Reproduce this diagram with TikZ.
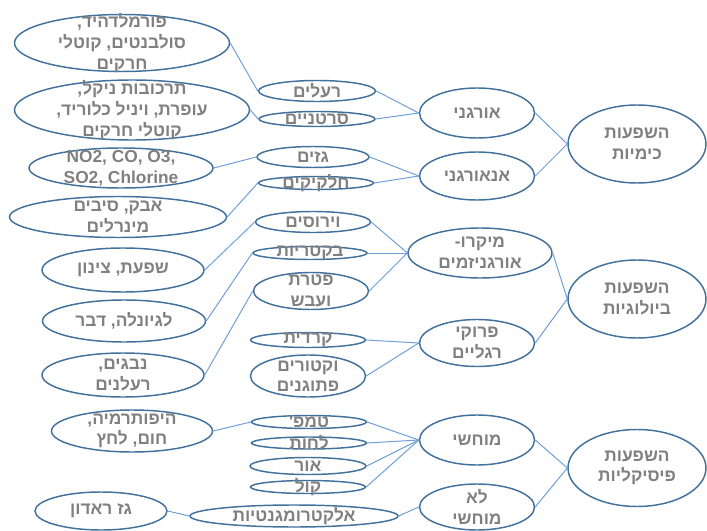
\documentclass[tikz,border=0pt]{standalone}
\usepackage{fontspec}
\usepackage{tikz}
\usetikzlibrary{shapes.geometric}
\TeXXeTstate=1
\newfontfamily\hebfont[Script=Hebrew]{Liberation Sans}
\definecolor{ovalblue}{HTML}{41719C}
\definecolor{linkblue}{HTML}{6F9FD8}
\definecolor{txtgray}{HTML}{808080}

\begin{document}
\begin{tikzpicture}[
  x=0.75pt, y=-0.75pt,
  oval/.style 2 args={ellipse, draw=ovalblue, line width=1.1pt, fill=white,
                      inner sep=0pt, minimum width=#1*0.75pt,
                      minimum height=#2*0.75pt},
  txt/.style={font=\hebfont\bfseries\fontsize{13}{15.5}\selectfont,
              text=txtgray, align=center, inner sep=0pt},
  link/.style={draw=linkblue, line width=0.75pt}
]
\useasboundingbox (0,0) rectangle (707,531);

\node[oval={138}{78}, label={[txt]center:{\beginR השפעות\endR\\\beginR כימיות\endR}}] (chem) at (637,144) {};
\node[oval={138}{78}, label={[txt]center:{\beginR השפעות\endR\\\beginR ביולוגיות\endR}}] (bio) at (637,299) {};
\node[oval={138}{77}, label={[txt]center:{\beginR השפעות\endR\\\beginR פיסיקליות\endR}}] (phys) at (637,468) {};

\node[oval={115}{50}, label={[txt]center:{\beginR אורגני\endR}}] (organic) at (477,113) {};
\node[oval={115}{48}, label={[txt]center:{\beginR אנאורגני\endR}}] (inorganic) at (477,176) {};
\node[oval={144}{50}, label={[txt]center:{\beginR מיקרו-\endR\\\beginR אורגניזמים\endR}}] (micro) at (480,253) {};
\node[oval={115}{47}, label={[txt]center:{\beginR פרוקי\endR\\\beginR רגליים\endR}}] (arthro) at (477,343) {};
\node[oval={115}{50}, label={[txt]center:{\beginR מוחשי\endR}}] (tangible) at (477,440) {};
\node[oval={115}{46}, label={[txt]center:{\beginR לא\endR\\\beginR מוחשי\endR}}] (intangible) at (477,507) {};

\node[oval={117}{21}, label={[txt]center:{\beginR רעלים\endR}}] (toxins) at (317,91) {};
\node[oval={116}{15}, label={[txt]center:{\beginR סרטניים\endR}}] (carcino) at (317,119) {};
\node[oval={112}{21}, label={[txt]center:{\beginR גזים\endR}}] (gases) at (313,157) {};
\node[oval={115}{13}, label={[txt]center:{\beginR חלקיקים\endR}}] (particles) at (316,183) {};
\node[oval={115}{21}, label={[txt]center:{\beginR וירוסים\endR}}] (viruses) at (313,222) {};
\node[oval={114}{13}, label={[txt]center:{\beginR בקטריות\endR}}] (bacteria) at (310,253) {};
\node[oval={115}{37}, label={[txt]center:{\beginR פטרת\endR\\\beginR ועבש\endR}}] (fungi) at (311,291) {};
\node[oval={115}{15}, label={[txt]center:{\beginR קרדית\endR}}] (mites) at (308,340) {};
\node[oval={115}{42}, label={[txt]center:{\beginR וקטורים\endR\\\beginR פתוגנים\endR}}] (vectors) at (308,376) {};
\node[oval={115}{13}, label={[txt]center:{\beginR טמפ'\endR}}] (temp) at (309,422) {};
\node[oval={115}{12}, label={[txt]center:{\beginR לחות\endR}}] (humidity) at (309,443) {};
\node[oval={116}{17}, label={[txt]center:{\beginR אור\endR}}] (light) at (308,466) {};
\node[oval={115}{13}, label={[txt]center:{\beginR קול\endR}}] (noise) at (308,487) {};
\node[oval={208}{22}, label={[txt]center:{\beginR אלקטרומגנטיות\endR}}] (emag) at (294,516) {};

\node[oval={215}{57}, label={[txt]center:{\beginR פורמלדהיד,\endR\\\beginR סולבנטים, קוטלי\endR\\\beginR חרקים\endR}}] (formal) at (122,43) {};
\node[oval={235}{60}, label={[txt]center:{\beginR תרכובות ניקל,\endR\\\beginR עופרת, ויניל כלוריד,\endR\\\beginR קוטלי חרקים\endR}}] (nickel) at (132,110) {};
\node[oval={184}{40}, label={[txt]center:{NO2, CO, O3,\\SO2, Chlorine}}] (airgas) at (121,168) {};
\node[oval={217}{41}, label={[txt]center:{\beginR אבק, סיבים\endR\\\beginR מינרלים\endR}}] (dust) at (118,217) {};
\node[oval={162}{44}, label={[txt]center:{\beginR שפעת, צינון\endR}}] (flu) at (123,270) {};
\node[oval={163}{42}, label={[txt]center:{\beginR לגיונלה, דבר\endR}}] (legion) at (124,321) {};
\node[oval={162}{44}, label={[txt]center:{\beginR נבגים,\endR\\\beginR רעלנים\endR}}] (spores) at (123,375) {};
\node[oval={161}{42}, label={[txt]center:{\beginR היפותרמיה,\endR\\\beginR חום, לחץ\endR}}] (hypo) at (132,431) {};
\node[oval={132}{38}, label={[txt]center:{\beginR גז ראדון\endR}}] (radon) at (101,511) {};

\draw[link] (formal.east) -- (toxins.west);
\draw[link] (nickel.east) -- (carcino.west);
\draw[link] (airgas.east) -- (gases.west);
\draw[link] (dust.east) -- (particles.west);
\draw[link] (flu.east) -- (viruses.west);
\draw[link] (legion.east) -- (bacteria.west);
\draw[link] (spores.east) -- (fungi.west);
\draw[link] (hypo.east) -- (temp.west);
\draw[link] (radon.east) -- (emag.west);

\draw[link] (toxins.east) -- (organic.west);
\draw[link] (carcino.east) -- (organic.west);
\draw[link] (gases.east) -- (inorganic.west);
\draw[link] (particles.east) -- (inorganic.west);
\draw[link] (viruses.east) -- (micro.west);
\draw[link] (bacteria.east) -- (micro.west);
\draw[link] (fungi.east) -- (micro.west);
\draw[link] (mites.east) -- (arthro.west);
\draw[link] (vectors.east) -- (arthro.west);
\draw[link] (temp.east) -- (tangible.west);
\draw[link] (humidity.east) -- (tangible.west);
\draw[link] (light.east) -- (tangible.west);
\draw[link] (noise.east) -- (tangible.west);
\draw[link] (emag.east) -- (intangible.west);

\draw[link] (organic.east) -- (chem.west);
\draw[link] (inorganic.east) -- (chem.west);
\draw[link] (micro.east) -- (bio.west);
\draw[link] (arthro.east) -- (bio.west);
\draw[link] (tangible.east) -- (phys.west);
\draw[link] (intangible.east) -- (phys.west);
\end{tikzpicture}
\end{document}
